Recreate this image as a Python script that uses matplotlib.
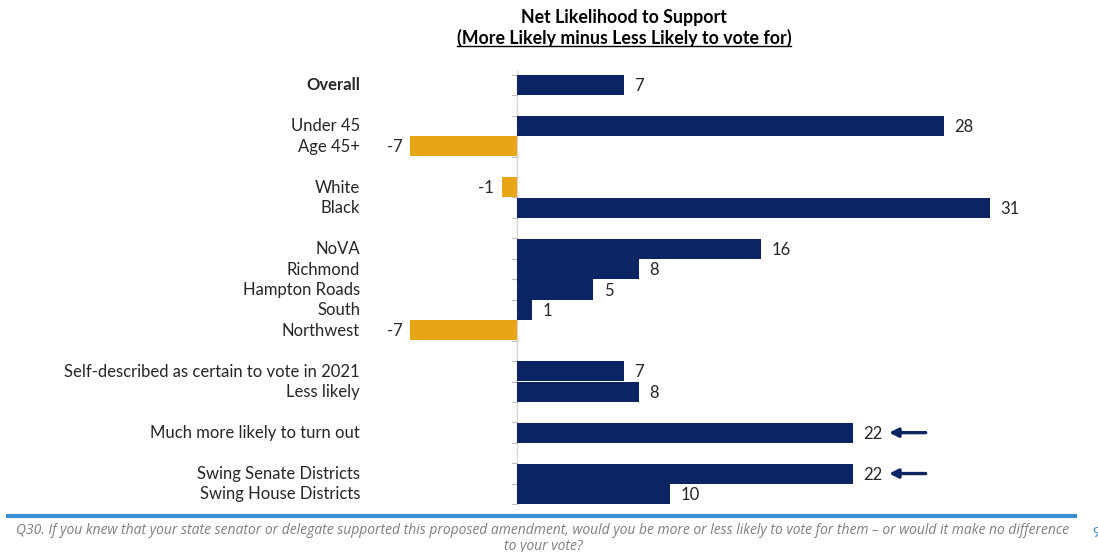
import matplotlib.pyplot as plt
from matplotlib.lines import Line2D

plt.rcParams['font.family'] = ['Lato', 'DejaVu Sans']

# data
labels = ['Overall', 'Under 45', 'Age 45+', 'White', 'Black', 'NoVA', 'Richmond',
          'Hampton Roads', 'South', 'Northwest',
          'Self-described as certain to vote in 2021', 'Less likely',
          'Much more likely to turn out', 'Swing Senate Districts', 'Swing House Districts']
values = [7, 28, -7, -1, 31, 16, 8, 5, 1, -7, 7, 8, 22, 22, 10]
slots = [0, 2, 3, 5, 6, 8, 9, 10, 11, 12, 14, 15, 17, 19, 20]
arrow_rows = ['Much more likely to turn out', 'Swing Senate Districts']

navy = '#0c2461'
gold = '#e8a617'
text_col = '#262626'

W, H = 1098, 552
fig = plt.figure(figsize=(W / 100, H / 100), dpi=100)

# axes placed in pixel space: x 400..1000, y 64..505
ax = fig.add_axes([400 / W, (H - 505) / H, 600 / W, 441 / H])
px_per_unit = 15.25
ax.set_xlim(-117 / px_per_unit, 483 / px_per_unit)
row_px = 20.45
ax.set_ylim(20 + 11 / row_px, -21 / row_px)
ax.axis('off')

colors = [navy if v >= 0 else gold for v in values]
ax.barh(slots, values, height=0.98, color=colors, zorder=2)

# zero line and small edge ticks
ax.plot([0, 0], [-0.7, 20.54], color='#d9d9d9', lw=1, zorder=1)
for s in slots:
    for e in (s - 0.5, s + 0.5):
        ax.plot([-0.3, 0], [e, e], color='#bfbfbf', lw=0.8, zorder=1)

for lab, v, s in zip(labels, values, slots):
    if v >= 0:
        ax.text(v + 0.7, s + 0.05, str(v), ha='left', va='center', fontsize=12, color=text_col)
    else:
        ax.text(v - 0.5, s + 0.05, str(v), ha='right', va='center', fontsize=12, color=text_col)
    ax.text(360, H - (85 + s * row_px) - 0.5, lab, transform=None, ha='right', va='center',
            fontsize=12, color=text_col, fontweight='bold' if lab == 'Overall' else 'normal')
    if lab in arrow_rows:
        ax.annotate('', xy=(24.4, s), xytext=(26.8, s),
                    arrowprops=dict(arrowstyle='-|>', color=navy, lw=2.4,
                                    mutation_scale=13, shrinkA=0, shrinkB=0))

# title
fig.text(624 / W, 1 - 18 / H, 'Net Likelihood to Support', ha='center', va='center',
         fontsize=12.8, fontweight='bold', color='black')
sub = fig.text(624 / W, 1 - 38 / H, '(More Likely minus Less Likely to vote for)',
               ha='center', va='center', fontsize=12.8, fontweight='bold', color='black')
fig.canvas.draw()
bb = sub.get_window_extent()
fig.add_artist(Line2D([bb.x0 / W, bb.x1 / W], [(bb.y0 + 1) / H, (bb.y0 + 1) / H],
                      transform=fig.transFigure, color='black', lw=1))

# footer
fig.add_artist(Line2D([8 / W, 1075 / W], [1 - 516 / H, 1 - 516 / H], transform=fig.transFigure,
                      color='#3a8fd0', lw=3))
fig.text(543 / W, 1 - 530 / H,
         'Q30. If you knew that your state senator or delegate supported this proposed amendment, '
         'would you be more or less likely to vote for them \u2013 or would it make no difference',
         ha='center', va='center', fontsize=10, style='italic', color='#7f7f7f',
         family=['Open Sans', 'DejaVu Sans'])
fig.text(543 / W, 1 - 546 / H, 'to your vote?', ha='center', va='center', fontsize=10,
         style='italic', color='#7f7f7f', family=['Open Sans', 'DejaVu Sans'])
fig.text(1092 / W, 1 - 533 / H, '9', ha='left', va='center', fontsize=10, color='#3a8fd0')

fig.savefig('out.png', dpi=100)
